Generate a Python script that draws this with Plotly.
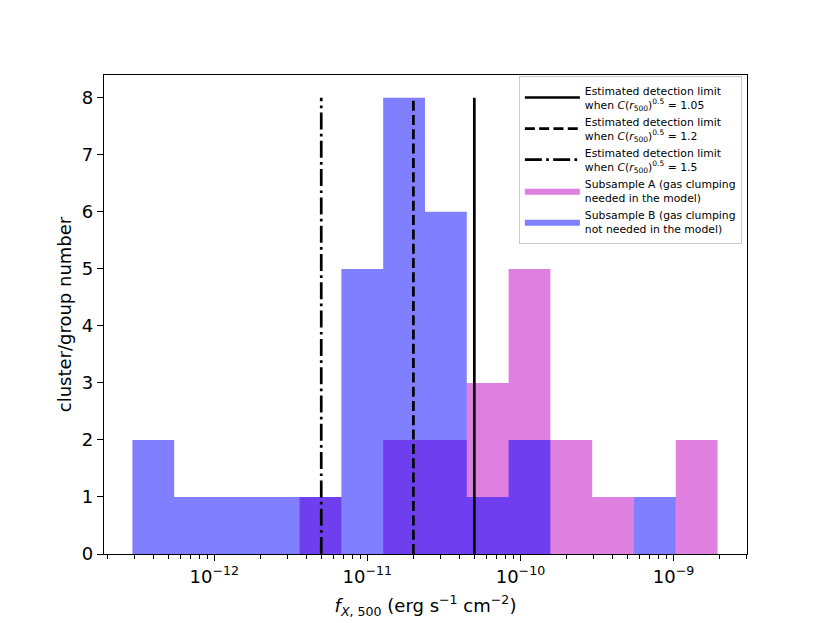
import numpy as np
import plotly.graph_objects as go

# histogram bins (log-spaced between min and max flux)
flux_min = 2.92e-13
flux_max = 1.94e-9
n_bins = 14
edges = np.logspace(np.log10(flux_min), np.log10(flux_max), n_bins + 1)

counts_a = [0, 0, 0, 0, 1, 0, 2, 2, 3, 5, 2, 1, 0, 2]   # gas clumping needed
counts_b = [2, 1, 1, 1, 1, 5, 8, 6, 1, 2, 0, 0, 1, 0]   # gas clumping not needed

limits = [5e-11, 2e-11, 5e-12]
limit_c = ['1.05', '1.2', '1.5']
limit_dash = ['solid', '10px,4.3px', '17px,4.3px,2.7px,4.3px']
limit_top = 8

major_ticks = [1e-12, 1e-11, 1e-10, 1e-9]
major_text = ['10<sup>\u221212</sup>', '10<sup>\u221211</sup>', '10<sup>\u221210</sup>', '10<sup>\u22129</sup>']
minor_ticks = [m * 10.0 ** k for k in range(-13, -8) for m in range(2, 10)]


def step_outline(counts):
    xs, ys = [edges[0]], [0]
    for i, c in enumerate(counts):
        xs += [edges[i], edges[i + 1]]
        ys += [c, c]
    xs.append(edges[-1])
    ys.append(0)
    return xs, ys


fig = go.Figure()

xa, ya = step_outline(counts_a)
fig.add_trace(go.Scatter(x=xa, y=ya, fill='toself', mode='lines', line=dict(width=0),
                         fillcolor='rgba(191,0,191,0.5)', legendrank=4,
                         name='Subsample A (gas clumping<br>needed in the model)'))
xb, yb = step_outline(counts_b)
fig.add_trace(go.Scatter(x=xb, y=yb, fill='toself', mode='lines', line=dict(width=0),
                         fillcolor='rgba(0,0,255,0.5)', legendrank=5,
                         name='Subsample B (gas clumping<br>not needed in the model)'))

for i, (v, c, d) in enumerate(zip(limits, limit_c, limit_dash)):
    fig.add_trace(go.Scatter(x=[v, v], y=[0, limit_top], mode='lines',
                             line=dict(color='black', width=2.7, dash=d), legendrank=i + 1,
                             name='Estimated detection limit<br>when <i>C</i>(<i>r</i><sub>500</sub>)'
                                  '<sup>0.5</sup> = ' + c))

axis_style = dict(showline=True, linecolor='black', linewidth=1.4, mirror=True,
                  ticks='outside', ticklen=6, tickwidth=1.4, tickcolor='black',
                  showgrid=False, zeroline=False, tickfont=dict(size=18, color='black'))

fig.update_xaxes(type='log', range=[-12.72, -8.52], tickmode='array',
                 tickvals=major_ticks, ticktext=major_text,
                 minor=dict(ticks='outside', ticklen=3.5, tickwidth=1, tickcolor='black',
                            tickmode='array', tickvals=minor_ticks, showgrid=False),
                 title=dict(text='<i>f</i><sub><i>X</i>, 500</sub> (erg s<sup>\u22121</sup> cm<sup>\u22122</sup>)',
                            font=dict(size=18, color='black'), standoff=13),
                 **axis_style)
fig.update_yaxes(range=[0, 8.4], tickmode='array', tickvals=list(range(0, 9)),
                 title=dict(text='cluster/group number', font=dict(size=18, color='black'), standoff=5),
                 **axis_style)

fig.update_layout(
    width=830, height=623,
    margin=dict(l=96, r=91, t=67, b=77),
    paper_bgcolor='white', plot_bgcolor='white',
    font=dict(family='DejaVu Sans', color='black'),
    legend=dict(x=0.992, y=0.998, xanchor='right', yanchor='top',
                bgcolor='rgba(255,255,255,0.8)', bordercolor='#cccccc', borderwidth=1,
                font=dict(size=10.8, color='black'), itemwidth=55, tracegroupgap=3),
)

fig.write_html("out.html")
